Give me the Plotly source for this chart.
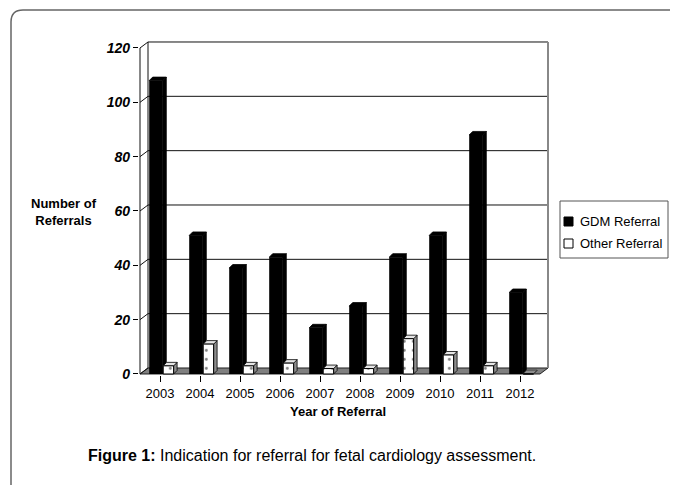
import plotly.graph_objects as go

years = ["2003", "2004", "2005", "2006", "2007", "2008", "2009", "2010", "2011", "2012"]
gdm_referral = [108, 51, 39, 43, 17, 25, 43, 51, 88, 30]
other_referral = [3, 11, 3, 4, 2, 2, 13, 7, 3, 0]
y_ticks = [0, 20, 40, 60, 80, 100, 120]
series_names = ["GDM Referral", "Other Referral"]

# the page body has an 8px margin; the figure is sized to fill the rest of the window
PAGE_OFF = 8
W, H = 678 - PAGE_OFF, 485 - PAGE_OFF
FONT = "Liberation Sans, Arial, sans-serif"


def px(x):  # window pixel -> paper x
    return (x - PAGE_OFF) / W


def py(y):  # window pixel -> paper y
    return (H - (y - PAGE_OFF)) / H


# plot geometry (window pixels)
X_PX_PER_UNIT = 40.0
X_RANGE = [-0.53, 9.73]
x_left_px = 140 + (X_RANGE[0] + 0.5) * X_PX_PER_UNIT
x_right_px = x_left_px + (X_RANGE[1] - X_RANGE[0]) * X_PX_PER_UNIT
Y_PX_PER_UNIT = 2.7167
Y_RANGE = [-0.4, 123]
zero_px = 374
y_bot_px = zero_px - Y_RANGE[0] * Y_PX_PER_UNIT
y_top_px = zero_px - Y_RANGE[1] * Y_PX_PER_UNIT

DX = 8 / X_PX_PER_UNIT   # wall depth offset (data units)
DY = 6 / Y_PX_PER_UNIT
BDX = 3.5 / X_PX_PER_UNIT  # bar depth offset
BDY = 3.5 / Y_PX_PER_UNIT

GDM_OFF, GDM_W = -0.27, 0.34
OTH_OFF, OTH_W = 0.08, 0.26

xs = list(range(len(years)))
fig = go.Figure()

fig.add_trace(go.Bar(
    x=xs, y=gdm_referral, name=series_names[0],
    offset=GDM_OFF, width=GDM_W,
    marker=dict(color="black", line=dict(width=0)),
))
fig.add_trace(go.Bar(
    x=xs, y=other_referral, name=series_names[1],
    offset=OTH_OFF, width=OTH_W,
    marker=dict(color="white", line=dict(color="black", width=1),
                pattern=dict(shape=".", fgcolor="black", bgcolor="white", size=9, solidity=0.08)),
))

shapes = []
line_black = dict(color="#111111", width=1)
# floor
shapes.append(dict(type="path", xref="x", yref="y",
                   path=f"M -0.5,0 L 9.5,0 L {9.5+DX},{DY} L {-0.5+DX},{DY} Z",
                   fillcolor="#808080", line=dict(color="#222222", width=1), layer="below"))
# back wall gridlines & diagonals
for v in y_ticks:
    if v > 0:
        shapes.append(dict(type="line", xref="x", yref="y", x0=-0.5 + DX, x1=9.5 + DX,
                           y0=v + DY, y1=v + DY, line=line_black, layer="below"))
    shapes.append(dict(type="line", xref="x", yref="y", x0=-0.5, x1=-0.5 + DX,
                       y0=v, y1=v + DY, line=line_black, layer="below"))
shapes.append(dict(type="line", xref="x", yref="y", x0=-0.5 + DX, x1=-0.5 + DX,
                   y0=DY, y1=120 + DY, line=line_black, layer="below"))
shapes.append(dict(type="line", xref="x", yref="y", x0=9.5 + DX, x1=9.5 + DX,
                   y0=DY, y1=120 + DY, line=dict(color="#888888", width=2), layer="below"))
shapes.append(dict(type="line", xref="x", yref="y", x0=-0.5, x1=-0.5,
                   y0=0, y1=120, line=line_black, layer="below"))


# 3-D side and top faces of the bars (derived from the data arrays)
def faces(c, off, w, v, side_fill, top_fill, edge):
    x0, x1 = c + off, c + off + w
    side = f"M {x1},0 L {x1+BDX},{BDY} L {x1+BDX},{v+BDY} L {x1},{v} Z"
    top = f"M {x0},{v} L {x1},{v} L {x1+BDX},{v+BDY} L {x0+BDX},{v+BDY} Z"
    return [dict(type="path", xref="x", yref="y", path=side, fillcolor=side_fill,
                 line=dict(color=edge, width=0.8), layer="below"),
            dict(type="path", xref="x", yref="y", path=top, fillcolor=top_fill,
                 line=dict(color=edge, width=0.8), layer="below")]


for c, v in zip(xs, gdm_referral):
    shapes += faces(c, GDM_OFF, GDM_W, v, "black", "black", "black")
for c, v in zip(xs, other_referral):
    if v > 0:
        shapes += faces(c, OTH_OFF, OTH_W, v, "#8c8c8c", "#e6e6e6", "black")
    else:
        shapes += faces(c, OTH_OFF, OTH_W, 0.15, "#8c8c8c", "#8c8c8c", "#333333")

# outer rounded frame
shapes.append(dict(type="path", xref="paper", yref="paper",
                   path=f"M {px(11)},0 L {px(11)},{py(22)} Q {px(11)},{py(10)} {px(23)},{py(10)} L 1,{py(10)}",
                   line=dict(color="#666666", width=1.5)))

# legend (drawn manually)
shapes.append(dict(type="rect", xref="paper", yref="paper", x0=px(560), x1=px(668),
                   y0=py(258), y1=py(201), line=dict(color="#555555", width=1), fillcolor="white"))
shapes.append(dict(type="rect", xref="paper", yref="paper", x0=px(564), x1=px(573),
                   y0=py(226), y1=py(217), line=dict(color="black", width=1), fillcolor="black"))
shapes.append(dict(type="rect", xref="paper", yref="paper", x0=px(564), x1=px(573),
                   y0=py(248), y1=py(239), line=dict(color="black", width=1), fillcolor="white"))

annotations = [
    dict(text=series_names[0], x=px(578), y=py(221.5), xref="paper", yref="paper",
         xanchor="left", yanchor="middle", showarrow=False,
         font=dict(family=FONT, size=13, color="black")),
    dict(text=series_names[1], x=px(578), y=py(243.5), xref="paper", yref="paper",
         xanchor="left", yanchor="middle", showarrow=False,
         font=dict(family=FONT, size=13, color="black")),
    dict(text="<b>Number of<br>Referrals</b>", x=px(64), y=py(212), xref="paper", yref="paper",
         xanchor="center", yanchor="middle", showarrow=False,
         font=dict(family=FONT, size=13, color="black"), align="center"),
    dict(text="<b>Year of Referral</b>", x=px(338), y=py(411), xref="paper", yref="paper",
         xanchor="center", yanchor="middle", showarrow=False,
         font=dict(family=FONT, size=13, color="black")),
    dict(text="<b>Figure 1:</b> Indication for referral for fetal cardiology assessment.",
         x=px(312), y=py(455), xref="paper", yref="paper",
         xanchor="center", yanchor="middle", showarrow=False,
         font=dict(family=FONT, size=16, color="black")),
]

fig.update_layout(
    width=W, height=H,
    margin=dict(l=0, r=0, t=0, b=0),
    paper_bgcolor="white", plot_bgcolor="rgba(0,0,0,0)",
    barmode="overlay", showlegend=False,
    font=dict(family=FONT, size=12, color="black"),
    xaxis=dict(domain=[px(x_left_px), px(x_right_px)], range=X_RANGE, automargin=False,
               tickmode="array", tickvals=xs, ticktext=years,
               ticks="outside", ticklen=6, tickcolor="black", tickson="boundaries",
               showgrid=False, zeroline=False, showline=False,
               tickfont=dict(family=FONT, size=13, color="black")),
    yaxis=dict(domain=[py(y_bot_px), py(y_top_px)], range=Y_RANGE, automargin=False,
               tickmode="array", tickvals=y_ticks,
               ticktext=[f"<b><i>{v}</i></b>" for v in y_ticks],
               ticks="outside", ticklen=5, tickcolor="black",
               showgrid=False, zeroline=False, showline=False,
               tickfont=dict(family=FONT, size=14, color="black")),
    shapes=shapes, annotations=annotations,
)

fig.write_html("out.html")
